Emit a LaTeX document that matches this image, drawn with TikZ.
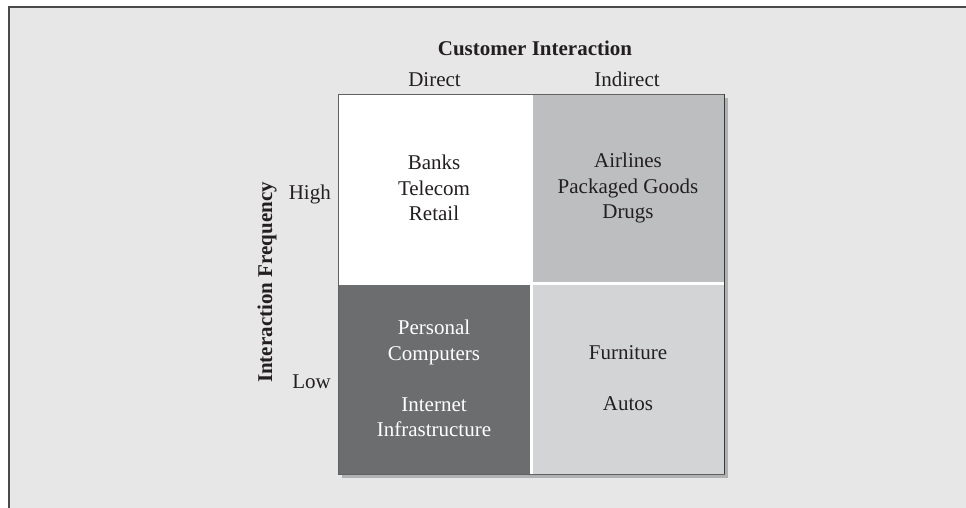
\documentclass[tikz,border=0pt]{standalone}
\usepackage{fontspec}
\setmainfont{Liberation Serif}
\definecolor{bgcol}{HTML}{E6E7E6}
\definecolor{framecol}{HTML}{4A4A4A}
\definecolor{shadowcol}{HTML}{B0B1B2}
\definecolor{trcol}{HTML}{BDBEC0}
\definecolor{blcol}{HTML}{6C6D6F}
\definecolor{brcol}{HTML}{D3D4D6}
\definecolor{txtcol}{HTML}{231F20}
\definecolor{edgecol}{HTML}{3A3A3A}
\begin{document}
\begin{tikzpicture}[x=1pt,y=-1pt,
  every node/.style={font=\fontsize{21}{25.5}\selectfont, text=txtcol, inner sep=0pt},
  celltext/.style={align=center},
  label/.style={anchor=base},
  bold/.style={font=\fontsize{21}{25.5}\selectfont\bfseries}]
\useasboundingbox (0,0) rectangle (966,508);
\clip (0,0) rectangle (966,508);
% outer frame
\fill[white] (0,0) rectangle (966,508);
\draw[line width=2pt, draw=framecol, fill=bgcol] (9,7) rectangle (990,530);
% shadow
\fill[shadowcol] (342,98) rectangle (728,478);
% grid
\fill[white] (338,94) rectangle (724,474);
\fill[trcol] (532.5,94) rectangle (724,281.5);
\fill[blcol] (338,284.5) rectangle (529.5,474);
\fill[brcol] (532.5,284.5) rectangle (724,474);
\draw[line width=0.8pt, draw=edgecol!80] (338,94) rectangle (724,474);
\draw[line width=1pt, draw=edgecol] (724,94) -- (724,474);
% cell texts
\node[celltext] (tl) at (434,188) {Banks\\Telecom\\Retail};
\node[celltext] (tr) at (628,188) {Airlines\\Packaged Goods\\Drugs};
\node[celltext, text=white] (bl) at (434,378.5) {Personal\\Computers\\[25.5pt]Internet\\Infrastructure};
\node[celltext] (br) at (628,378.5) {Furniture\\[25.5pt]Autos};
% headings
\node[label, bold] (title) at (535,56) {Customer Interaction};
\node[label] (direct) at (434.5,87) {Direct};
\node[label] (indirect) at (627,87) {Indirect};
\node[anchor=base east] (high) at (331,199) {High};
\node[anchor=base east] (low) at (331,388) {Low};
\node[label, bold, rotate=90] (freq) at (272,282.5) {Interaction Frequency};
\end{tikzpicture}
\end{document}
